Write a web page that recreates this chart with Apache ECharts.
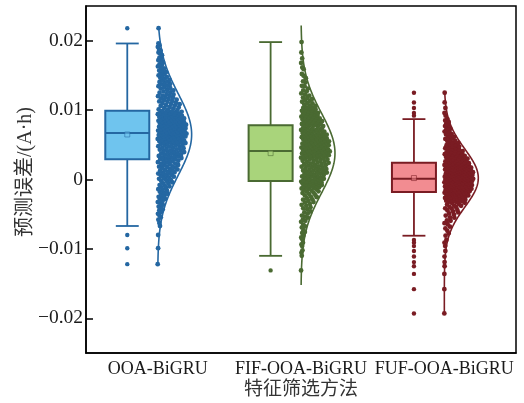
<!DOCTYPE html>
<html>
<head>
<meta charset="utf-8">
<script src="https://cdn.jsdelivr.net/npm/echarts@6/dist/echarts.min.js"></script>
<style>
  html, body { margin: 0; padding: 0; background: #fff; }
  #chart { width: 524px; height: 403px; }
</style>
</head>
<body>
<div id="chart"></div>
<script>
// Feature-screening methods compared on the x axis
const categories = ['OOA-BiGRU', 'FIF-OOA-BiGRU', 'FUF-OOA-BiGRU'];

// Prediction errors (A·h) of each model
const ooaErrors = [
  -0.0067,-0.0058,-0.0052,-0.0047,-0.0043,-0.0039,-0.0035,-0.0031,-0.0028,-0.0025,
  -0.0022,-0.0019,-0.0016,-0.0014,-0.0012,-0.0010,-0.0008,-0.0006,-0.0004,-0.0002,
  -0.0001,0.0001,0.0002,0.0004,0.0005,0.0006,0.0007,0.0009,0.0010,0.0011,
  0.0013,0.0014,0.0015,0.0017,0.0018,0.0019,0.0021,0.0022,0.0023,0.0025,
  0.0026,0.0027,0.0028,
  0.0029,0.0030,0.0031,0.0032,0.0033,0.0034,0.0035,0.0036,0.0037,0.0038,
  0.0039,0.0040,0.0041,0.0042,0.0043,0.0044,0.0045,0.0046,0.0047,0.0048,
  0.0049,0.0050,0.0051,0.0052,0.0053,0.0054,0.0055,0.0055,0.0056,0.0057,
  0.0058,0.0059,0.0060,0.0060,0.0061,0.0062,0.0062,0.0063,0.0064,0.0064,
  0.0065,0.0065,0.0066,0.0066,0.0067,
  0.0067,0.0068,0.0068,0.0069,0.0070,0.0070,0.0071,0.0072,0.0072,0.0073,
  0.0074,0.0074,0.0075,0.0076,0.0076,0.0077,0.0078,0.0078,0.0079,0.0080,
  0.0080,0.0081,0.0082,0.0083,0.0083,0.0084,0.0085,0.0086,0.0086,0.0087,
  0.0088,0.0089,0.0090,0.0090,0.0091,0.0092,0.0093,0.0094,0.0094,0.0095,
  0.0096,0.0097,0.0097,0.0098,0.0099,
  0.0100,0.0101,0.0103,0.0104,0.0106,0.0107,0.0109,0.0110,0.0112,0.0113,
  0.0115,0.0116,0.0118,0.0120,0.0121,0.0123,0.0125,0.0127,0.0129,0.0131,
  0.0133,0.0135,0.0137,0.0139,0.0141,0.0143,0.0145,0.0148,0.0150,0.0152,
  0.0155,0.0157,0.0160,0.0163,0.0166,0.0169,0.0172,0.0175,0.0179,0.0183,
  0.0187,0.0191,0.0196,
  0.0218,-0.0080,-0.0099,-0.0122,
  -0.00625,-0.00545,-0.00495,-0.00445,-0.00405,-0.00365,-0.00325,-0.00295,-0.00265,-0.00235,
  -0.00205,-0.00175,-0.00145,-0.00115,-0.00085,-0.00055,-0.00025,0.00005,0.00035,0.00065,
  0.00085,0.00105,0.00125,0.00145,0.00165,0.00185,0.00205,0.00225,0.00245,0.00265,
  0.00295,0.00315,0.00335,0.00355,0.00375,0.00395,0.00415,0.00435,0.00455,0.00475,
  0.00495,0.00505,0.00515,0.00525,0.00535,0.00545,0.00555,0.00565,0.00575,0.00585,
  0.00595,0.00605,0.00615,0.00625,0.00635,0.00645,0.00655,0.00655,0.00665,0.00665,
  0.00675,0.00685,0.00695,0.00705,0.00715,0.00725,0.00735,0.00745,0.00755,0.00765,
  0.00775,0.00785,0.00795,0.00805,0.00815,0.00825,0.00835,0.00845,0.00855,0.00865,
  0.00875,0.00885,0.00895,0.00905,0.00915,0.00925,0.00935,0.00945,0.00955,0.00975,
  0.01005,0.01025,0.01045,0.01065,0.01085,0.01105,0.01125,0.01145,0.01165,0.01185,
  0.01205,0.01225,0.01255,0.01285,0.01315,0.01345,0.01375,0.01405,0.01435,0.01465,
  0.01495,0.01535,0.01565,0.01615,0.01655,0.01705,0.01755,0.01815,0.01855,0.01935
];

const fifErrors = [
  -0.0110,-0.0102,-0.0096,-0.0091,-0.0086,-0.0081,-0.0077,-0.0073,-0.0069,-0.0065,
  -0.0061,-0.0058,-0.0055,-0.0052,-0.0049,-0.0046,-0.0043,-0.0040,-0.0038,-0.0035,
  -0.0033,-0.0031,-0.0029,-0.0027,-0.0025,-0.0023,-0.0021,-0.0019,-0.0017,-0.0016,
  -0.0014,-0.0013,-0.0012,-0.0011,-0.0010,-0.0009,-0.0008,-0.0007,-0.0006,-0.0005,
  -0.0004,-0.0003,-0.0003,-0.0002,
  -0.0001,0.0000,0.0001,0.0002,0.0003,0.0004,0.0005,0.0006,0.0007,0.0008,
  0.0009,0.0010,0.0011,0.0012,0.0013,0.0014,0.0015,0.0016,0.0017,0.0018,
  0.0019,0.0020,0.0021,0.0022,0.0023,0.0024,0.0025,0.0026,0.0027,0.0028,
  0.0029,0.0030,0.0031,0.0032,0.0033,0.0034,0.0035,0.0035,0.0036,0.0037,
  0.0038,0.0038,0.0039,0.0040,0.0041,
  0.0042,0.0043,0.0043,0.0044,0.0045,0.0046,0.0047,0.0047,0.0048,0.0049,
  0.0050,0.0051,0.0051,0.0052,0.0053,0.0054,0.0055,0.0055,0.0056,0.0057,
  0.0058,0.0059,0.0059,0.0060,0.0061,0.0062,0.0063,0.0063,0.0064,0.0065,
  0.0066,0.0067,0.0067,0.0068,0.0069,0.0070,0.0071,0.0071,0.0072,0.0073,
  0.0074,0.0075,0.0076,0.0077,0.0078,
  0.0079,0.0080,0.0081,0.0082,0.0083,0.0084,0.0085,0.0086,0.0087,0.0088,
  0.0089,0.0090,0.0091,0.0092,0.0093,0.0094,0.0095,0.0096,0.0097,0.0098,
  0.0099,0.0100,0.0101,0.0102,0.0103,0.0104,0.0106,0.0108,0.0110,0.0112,
  0.0114,0.0116,0.0118,0.0121,0.0124,0.0127,0.0131,0.0135,0.0140,0.0146,
  0.0152,0.0159,0.0168,0.0183,0.0198,
  -0.0131,
  -0.01055,-0.00935,-0.00835,-0.00755,-0.00675,-0.00595,-0.00535,-0.00475,-0.00415,-0.00365,
  -0.00325,-0.00285,-0.00255,-0.00225,-0.00195,-0.00175,-0.00155,-0.00135,-0.00115,-0.00095,
  -0.00085,-0.00075,-0.00065,-0.00055,-0.00045,-0.00045,-0.00035,-0.00035,-0.00025,-0.00025,
  -0.00015,0.00005,0.00025,0.00045,0.00065,0.00085,0.00105,0.00125,0.00145,0.00165,
  0.00185,0.00205,0.00225,0.00245,0.00265,0.00285,0.00295,0.00305,0.00315,0.00325,
  0.00335,0.00345,0.00355,0.00365,0.00375,0.00385,0.00395,0.00395,0.00405,0.00405,
  0.00415,0.00425,0.00435,0.00445,0.00455,0.00465,0.00475,0.00485,0.00495,0.00505,
  0.00515,0.00525,0.00535,0.00545,0.00555,0.00565,0.00575,0.00585,0.00595,0.00605,
  0.00615,0.00625,0.00635,0.00645,0.00655,0.00675,0.00695,0.00715,0.00735,0.00765,
  0.00785,0.00795,0.00805,0.00815,0.00825,0.00835,0.00845,0.00855,0.00865,0.00875,
  0.00885,0.00895,0.00905,0.00925,0.00945,0.00965,0.00985,0.01005,0.01035,0.01065,
  0.01095,0.01135,0.01175,0.01225,0.01285,0.01345,0.01415,0.01495,0.01615,0.01745
];

const fufErrors = [
  -0.0193,-0.0158,-0.0136,-0.0125,-0.0119,-0.0111,-0.0103,-0.0096,-0.0091,-0.0087,
  -0.0081,-0.0074,-0.0068,-0.0063,-0.0059,-0.0055,-0.0052,-0.0049,-0.0046,-0.0044,
  -0.0042,-0.0040,-0.0038,-0.0036,-0.0034,-0.0033,-0.0032,-0.0031,-0.0030,-0.0029,
  -0.0028,-0.0027,-0.0026,-0.0025,-0.0024,-0.0024,-0.0023,-0.0022,-0.0022,-0.0021,
  -0.0021,-0.0020,-0.0020,-0.0019,-0.0019,
  -0.0018,-0.0018,-0.0017,-0.0017,-0.0016,-0.0016,-0.0015,-0.0015,-0.0014,-0.0014,
  -0.0013,-0.0013,-0.0012,-0.0012,-0.0011,-0.0011,-0.0010,-0.0010,-0.0009,-0.0009,
  -0.0008,-0.0008,-0.0007,-0.0007,-0.0006,-0.0006,-0.0005,-0.0005,-0.0004,-0.0004,
  -0.0003,-0.0003,-0.0002,-0.0002,-0.0001,-0.0001,0.0000,0.0000,0.0000,0.0000,
  0.0001,0.0001,0.0001,-0.0010,-0.0014,
  0.0001,0.0002,0.0002,0.0003,0.0003,0.0004,0.0004,0.0005,0.0005,0.0006,
  0.0006,0.0007,0.0007,0.0008,0.0008,0.0009,0.0009,0.0010,0.0010,0.0011,
  0.0011,0.0012,0.0012,0.0013,0.0013,0.0014,0.0014,0.0015,0.0015,0.0016,
  0.0016,0.0017,0.0017,0.0018,0.0018,0.0019,0.0019,0.0020,0.0020,0.0021,
  0.0021,0.0022,0.0022,0.0023,0.0024,
  0.0025,0.0026,0.0027,0.0028,0.0029,0.0030,0.0031,0.0032,0.0033,0.0034,
  0.0035,0.0036,0.0037,0.0038,0.0039,0.0040,0.0041,0.0042,0.0044,0.0045,
  0.0047,0.0048,0.0050,0.0051,0.0053,0.0055,0.0057,0.0059,0.0061,0.0063,
  0.0065,0.0067,0.0069,0.0072,0.0074,0.0077,0.0080,0.0083,0.0085,0.0087,
  0.0092,0.0096,0.0103,0.0111,0.0125,
  -0.00775,-0.00705,-0.00645,-0.00595,-0.00545,-0.00505,-0.00475,-0.00445,-0.00415,-0.00395,
  -0.00375,-0.00355,-0.00335,-0.00315,-0.00305,-0.00295,-0.00285,-0.00275,-0.00265,-0.00255,
  -0.00245,-0.00235,-0.00225,-0.00215,-0.00205,-0.00205,-0.00195,-0.00195,-0.00185,-0.00185,
  -0.00175,-0.00165,-0.00155,-0.00145,-0.00135,-0.00125,-0.00115,-0.00105,-0.00095,-0.00085,
  -0.00075,-0.00065,-0.00055,-0.00045,-0.00035,-0.00025,-0.00015,-0.00005,-0.00175,-0.00155,
  -0.00135,-0.00115,-0.00095,-0.00075,-0.00055,-0.00035,-0.00015,0.00005,-0.00005,0.00005,
  0.00015,0.00025,0.00035,0.00045,0.00055,0.00065,0.00075,0.00085,0.00095,0.00105,
  0.00115,0.00125,0.00135,0.00145,0.00155,0.00165,0.00175,0.00185,0.00195,0.00205,
  0.00215,0.00225,0.00235,0.00025,0.00065,0.00105,0.00145,0.00185,0.00225,0.00235,
  0.00245,0.00255,0.00265,0.00275,0.00285,0.00295,0.00305,0.00315,0.00325,0.00335,
  0.00345,0.00355,0.00365,0.00375,0.00385,0.00395,0.00415,0.00435,0.00455,0.00475,
  0.00495,0.00525,0.00555,0.00585,0.00615,0.00655,0.00695,0.00735,0.00785,0.00835
];

// Box summaries: lower whisker, Q1, median, Q3, upper whisker
const ooaBox = [-0.0067, 0.0029, 0.0067, 0.0099, 0.0196];
const fifBox = [-0.0110, -0.0002, 0.0041, 0.0078, 0.0198];
const fufBox = [-0.0081, -0.0018, 0.0001, 0.0024, 0.0087];

// Vertical extent of each fitted density outline
const densitySpans = [[-0.0122, 0.0220], [-0.0152, 0.0222], [-0.0193, 0.0125]];

// Y-axis tick values
const yTicks = [-0.02, -0.01, 0, 0.01, 0.02];

const groups = [ooaErrors, fifErrors, fufErrors];
const boxes = [ooaBox, fifBox, fufBox];

const palette = [
  { line: '#2467a2', fill: '#6fc4ee' },
  { line: '#4a6a32', fill: '#a9d47b' },
  { line: '#7a1c23', fill: '#f28c91' }
];

// widths expressed as fractions of one category band
const BOX_SHIFT = -0.212;
const BOX_WIDTH = 0.307;
const CAP_WIDTH = 0.16;
const CURVE_WIDTH = 0.237;
const POINT_SPREAD = 0.205;

const serif = '"Liberation Serif", "Times New Roman", "Noto Sans CJK SC", serif';
const textColor = '#1a1a1a';

function meanOf(a) { return a.reduce((s, v) => s + v, 0) / a.length; }
function sdOf(a) {
  const m = meanOf(a);
  return Math.sqrt(a.reduce((s, v) => s + (v - m) * (v - m), 0) / (a.length - 1));
}

// normal fit of each error sample, scaled so its peak is 1
const fits = groups.map(a => {
  const m = meanOf(a), s = sdOf(a);
  return y => Math.exp(-0.5 * ((y - m) / s) * ((y - m) / s));
});

const curves = groups.map((a, g) => {
  const [lo, hi] = densitySpans[g];
  const pts = [];
  const steps = 200;
  for (let i = 0; i <= steps; i++) {
    const y = lo + (hi - lo) * i / steps;
    pts.push([y, fits[g](y)]);
  }
  return pts;
});

// sina-style scatter: each point offset within the density envelope
const pointData = [];
groups.forEach((a, g) => {
  const sorted = a.slice().sort((p, q) => p - q);
  sorted.forEach((v, i) => {
    const u = (i * 0.6180339887 + 0.13) % 1;
    pointData.push([g, v, u * fits[g](v)]);
  });
});

const outlierData = [];
groups.forEach((a, g) => {
  const b = boxes[g];
  a.forEach(v => { if (v < b[0] - 1e-9 || v > b[4] + 1e-9) outlierData.push([g, v]); });
});

const boxData = boxes.map((b, g) => [g].concat(b));
const meanData = groups.map((a, g) => [g, meanOf(a)]);

function boxCenter(api, g) {
  const band = api.size([1, 0])[0];
  return { x: api.coord([g, 0])[0] + BOX_SHIFT * band, band };
}

const chart = echarts.init(document.getElementById('chart'));
chart.setOption({
  animation: false,
  backgroundColor: '#fff',
  grid: {
    left: 86, right: 8, top: 6, bottom: 50,
    outerBoundsMode: 'none', containLabel: false,
    show: true, borderColor: '#000', borderWidth: 1.5
  },
  xAxis: {
    type: 'category',
    data: categories,
    boundaryGap: true,
    axisLine: { onZero: false, lineStyle: { color: '#000', width: 1.5 } },
    axisTick: { inside: true, alignWithLabel: true, length: 7, lineStyle: { color: '#000', width: 1.5 } },
    axisLabel: { interval: 0, color: textColor, fontFamily: serif, fontSize: 18, margin: 7 }
  },
  yAxis: {
    type: 'value',
    min: -0.025,
    max: 0.025,
    splitLine: { show: false },
    axisLine: { show: true, lineStyle: { color: '#000', width: 1.5 } },
    axisTick: { show: true, inside: true, length: 7, customValues: yTicks, lineStyle: { color: '#000', width: 1.5 } },
    axisLabel: {
      customValues: yTicks,
      color: textColor, fontFamily: serif, fontSize: 19.5, margin: 3,
      formatter: v => Math.abs(v) < 1e-12 ? '0' : (v < 0 ? '\u2212' : '') + Math.abs(v).toFixed(2)
    }
  },
  graphic: [
    {
      type: 'text',
      x: 26, y: 172,
      rotation: Math.PI / 2,
      style: {
        text: '预测误差/(A·h)',
        fill: '#333',
        fontFamily: serif, fontSize: 20,
        align: 'center', verticalAlign: 'middle',
        textAlign: 'center', textVerticalAlign: 'middle'
      }
    },
    {
      type: 'text',
      x: 301, y: 390,
      style: {
        text: '特征筛选方法',
        fill: '#333',
        fontFamily: serif, fontSize: 19,
        align: 'center', verticalAlign: 'middle',
        textAlign: 'center', textVerticalAlign: 'middle'
      }
    }
  ],
  series: [
    {
      type: 'custom',
      name: 'box',
      data: boxData,
      encode: { x: 0, y: [1, 2, 3, 4, 5] },
      renderItem: (params, api) => {
        const g = api.value(0);
        const { x: c, band } = boxCenter(api, g);
        const half = BOX_WIDTH * band / 2;
        const cap = CAP_WIDTH * band / 2;
        const y = k => api.coord([g, api.value(k)])[1];
        const yLo = y(1), yQ1 = y(2), yMed = y(3), yQ3 = y(4), yHi = y(5);
        const col = palette[g];
        const ls = { stroke: col.line, lineWidth: 1.8, fill: null };
        return {
          type: 'group',
          children: [
            { type: 'line', shape: { x1: c, y1: yQ1, x2: c, y2: yLo }, style: ls },
            { type: 'line', shape: { x1: c, y1: yQ3, x2: c, y2: yHi }, style: ls },
            { type: 'line', shape: { x1: c - cap, y1: yLo, x2: c + cap, y2: yLo }, style: ls },
            { type: 'line', shape: { x1: c - cap, y1: yHi, x2: c + cap, y2: yHi }, style: ls },
            { type: 'rect', shape: { x: c - half, y: yQ3, width: 2 * half, height: yQ1 - yQ3 },
              style: { fill: col.fill, stroke: col.line, lineWidth: 2 } },
            { type: 'line', shape: { x1: c - half, y1: yMed, x2: c + half, y2: yMed },
              style: { stroke: col.line, lineWidth: 2 } }
          ]
        };
      }
    },
    {
      type: 'custom',
      name: 'mean',
      data: meanData,
      encode: { x: 0, y: 1 },
      renderItem: (params, api) => {
        const g = api.value(0);
        const { x: c } = boxCenter(api, g);
        const yv = api.coord([g, api.value(1)])[1];
        const s = 5;
        return {
          type: 'rect',
          shape: { x: c - s / 2, y: yv - s / 2, width: s, height: s },
          style: { fill: palette[g].fill, stroke: palette[g].line, lineWidth: 1, opacity: 0.55 }
        };
      }
    },
    {
      type: 'custom',
      name: 'outliers',
      data: outlierData,
      encode: { x: 0, y: 1 },
      renderItem: (params, api) => {
        const g = api.value(0);
        const { x: c } = boxCenter(api, g);
        const yv = api.coord([g, api.value(1)])[1];
        return { type: 'circle', shape: { cx: c, cy: yv, r: 2.2 }, style: { fill: palette[g].line } };
      }
    },
    {
      type: 'custom',
      name: 'points',
      data: pointData,
      encode: { x: 0, y: 1 },
      renderItem: (params, api) => {
        const g = api.value(0);
        const band = api.size([1, 0])[0];
        const p = api.coord([g, api.value(1)]);
        const cx = p[0] + api.value(2) * POINT_SPREAD * band;
        return { type: 'circle', shape: { cx, cy: p[1], r: 2.4 }, style: { fill: palette[g].line } };
      }
    },
    {
      type: 'custom',
      name: 'density',
      data: meanData,
      encode: { x: 0, y: 1 },
      renderItem: (params, api) => {
        const g = api.value(0);
        const band = api.size([1, 0])[0];
        const x0 = api.coord([g, 0])[0];
        const points = curves[g].map(([yv, d]) => [x0 + CURVE_WIDTH * band * d, api.coord([g, yv])[1]]);
        return { type: 'polyline', shape: { points }, style: { stroke: palette[g].line, lineWidth: 1.6, fill: null } };
      }
    }
  ]
});
</script>
</body>
</html>
